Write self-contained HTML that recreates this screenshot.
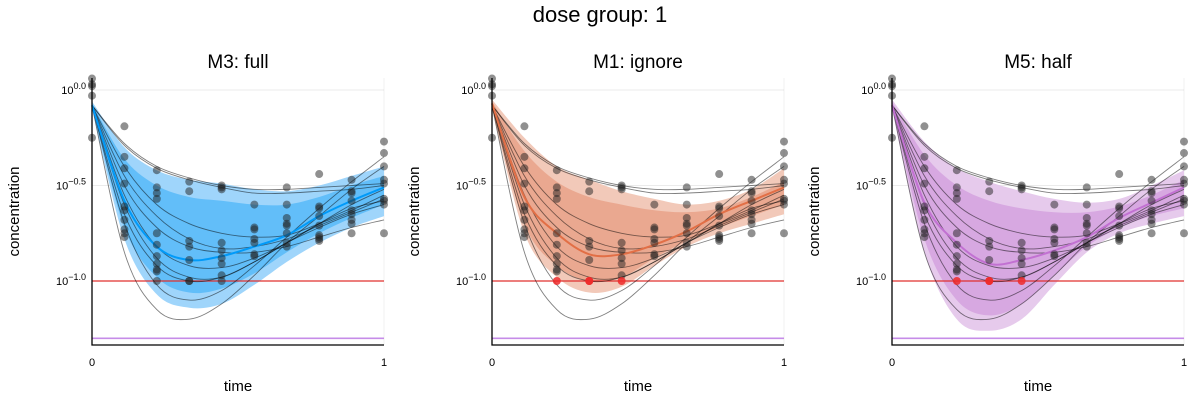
<!DOCTYPE html>
<html><head><meta charset="utf-8">
<style>
body{margin:0;background:#fff;}
svg text{font-family:"Liberation Sans","DejaVu Sans",sans-serif;}
</style></head>
<body>
<svg id="chart" width="1200" height="400" viewBox="0 0 1200 400" xmlns="http://www.w3.org/2000/svg">
<text x="600" y="22" text-anchor="middle" font-size="22" fill="#000">dose group: 1</text>
</svg>
<script>
const times=[0,0.111,0.222,0.333,0.444,0.556,0.667,0.778,0.889,1];
const obsT=[0,0.111,0.222,0.333,0.444,0.556,0.667,0.778,0.889,1];
const obsV=[
 [0.06,0.03,0.02,-0.03,-0.25],
 [-0.19,-0.35,-0.41,-0.49,-0.61,-0.63,-0.68,-0.73,-0.75,-0.77],
 [-0.42,-0.51,-0.54,-0.57,-0.75,-0.81,-0.87,-0.91,-0.94,-0.95,-1.0],
 [-0.48,-0.53,-0.79,-0.82,-0.89,-1.0,-1.0],
 [-0.50,-0.51,-0.52,-0.80,-0.84,-0.88,-0.91,-0.97,-1.0],
 [-0.60,-0.72,-0.73,-0.78,-0.80,-0.86,-0.87],
 [-0.51,-0.60,-0.67,-0.70,-0.71,-0.75,-0.80,-0.82],
 [-0.44,-0.61,-0.62,-0.66,-0.71,-0.76,-0.77,-0.78,-0.79],
 [-0.47,-0.53,-0.54,-0.58,-0.63,-0.65,-0.68,-0.70,-0.75],
 [-0.27,-0.33,-0.40,-0.47,-0.49,-0.57,-0.58,-0.60,-0.75]
];
const indiv=[
 [-0.08,-0.28,-0.40,-0.46,-0.50,-0.52,-0.52,-0.51,-0.50,-0.49],
 [-0.08,-0.29,-0.41,-0.47,-0.51,-0.54,-0.54,-0.53,-0.52,-0.50],
 [-0.08,-0.70,-1.02,-1.10,-1.05,-0.92,-0.77,-0.62,-0.48,-0.35],
 [-0.08,-0.85,-1.15,-1.20,-1.12,-0.97,-0.80,-0.66,-0.52,-0.40],
 [-0.08,-0.50,-0.72,-0.82,-0.85,-0.85,-0.82,-0.77,-0.72,-0.68],
 [-0.08,-0.40,-0.60,-0.70,-0.75,-0.77,-0.76,-0.70,-0.63,-0.55],
 [-0.08,-0.55,-0.82,-0.92,-0.93,-0.88,-0.80,-0.70,-0.60,-0.52],
 [-0.08,-0.60,-0.88,-0.98,-0.98,-0.90,-0.80,-0.70,-0.62,-0.58],
 [-0.08,-0.65,-0.92,-1.00,-0.98,-0.90,-0.80,-0.72,-0.65,-0.60],
 [-0.08,-0.45,-0.66,-0.78,-0.83,-0.82,-0.78,-0.71,-0.64,-0.57]
];
const panelTitles=["M3: full","M1: ignore","M5: half"];
const medianM3=[-0.08,-0.58,-0.82,-0.89,-0.87,-0.82,-0.76,-0.66,-0.58,-0.51];
const medianM1=[-0.07,-0.56,-0.75,-0.86,-0.86,-0.81,-0.74,-0.65,-0.58,-0.51];
const medianM5=[-0.08,-0.59,-0.80,-0.91,-0.89,-0.84,-0.77,-0.67,-0.59,-0.51];
const outerUpM3=[-0.06,-0.30,-0.42,-0.47,-0.49,-0.52,-0.53,-0.50,-0.45,-0.40];
const outerLoM3=[-0.10,-0.78,-1.07,-1.14,-1.12,-1.02,-0.90,-0.80,-0.72,-0.66];
const innerUpM3=[-0.07,-0.36,-0.50,-0.56,-0.58,-0.60,-0.60,-0.56,-0.50,-0.45];
const innerLoM3=[-0.09,-0.72,-0.98,-1.06,-1.04,-0.96,-0.85,-0.75,-0.67,-0.60];
const outerUpM1=[-0.05,-0.25,-0.40,-0.47,-0.53,-0.57,-0.60,-0.58,-0.52,-0.41];
const outerLoM1=[-0.10,-0.75,-0.98,-1.06,-1.03,-0.92,-0.82,-0.75,-0.70,-0.65];
const innerUpM1=[-0.06,-0.32,-0.48,-0.56,-0.60,-0.63,-0.64,-0.62,-0.56,-0.48];
const innerLoM1=[-0.09,-0.70,-0.92,-1.00,-0.98,-0.88,-0.79,-0.72,-0.66,-0.60];
const outerUpM5=[-0.05,-0.27,-0.41,-0.48,-0.53,-0.57,-0.59,-0.57,-0.50,-0.42];
const outerLoM5=[-0.10,-0.85,-1.20,-1.26,-1.20,-1.02,-0.85,-0.75,-0.70,-0.66];
const innerUpM5=[-0.06,-0.34,-0.50,-0.58,-0.62,-0.64,-0.64,-0.61,-0.55,-0.47];
const innerLoM5=[-0.09,-0.78,-1.10,-1.18,-1.12,-0.97,-0.82,-0.72,-0.66,-0.62];
const yTicks=[0,-0.5,-1.0];
const yTickLabels=["0.0","\u22120.5","\u22121.0"];
const xTicks=[0,1];
const loq=-1.0;
const lloq=-1.3;

const NS="http://www.w3.org/2000/svg";
const svg=document.getElementById('chart');
function mk(tag,attrs,parent){const e=document.createElementNS(NS,tag);for(const k in attrs)e.setAttribute(k,attrs[k]);(parent||svg).appendChild(e);return e;}
const panels=[
 {x0:92,med:medianM3,ou:outerUpM3,ol:outerLoM3,iu:innerUpM3,il:innerLoM3,c:"#009af9",outer:"#9fd5fb",inner:"#62bef9",red:false},
 {x0:492,med:medianM1,ou:outerUpM1,ol:outerLoM1,iu:innerUpM1,il:innerLoM1,c:"#e26f46",outer:"#f2c9b9",inner:"#eaa890",red:true},
 {x0:892,med:medianM5,ou:outerUpM5,ol:outerLoM5,iu:innerUpM5,il:innerLoM5,c:"#c271d2",outer:"#e6caec",inner:"#d7a8e1",red:true}
];
const W=292, yTop=78, yBot=345;
function yS(v){return 90-v*191;}
function pts(arr,xs){return arr.map((v,i)=>[xs(times[i]),yS(v)]);}
function spline(p){let d="M"+p[0][0].toFixed(1)+","+p[0][1].toFixed(1);
 for(let i=0;i<p.length-1;i++){const p0=p[i-1]||p[i],p1=p[i],p2=p[i+1],p3=p[i+2]||p[i+1];
  const c1=[p1[0]+(p2[0]-p0[0])/6,p1[1]+(p2[1]-p0[1])/6],c2=[p2[0]-(p3[0]-p1[0])/6,p2[1]-(p3[1]-p1[1])/6];
  d+=" C"+c1[0].toFixed(1)+","+c1[1].toFixed(1)+" "+c2[0].toFixed(1)+","+c2[1].toFixed(1)+" "+p2[0].toFixed(1)+","+p2[1].toFixed(1);}
 return d;}
function bandPath(up,lo,xs){const a=pts(up,xs),b=pts(lo,xs).reverse();let d=spline(a);d+=" L"+spline(b).slice(1)+" Z";return d;}
panels.forEach((P,pi)=>{
 const xs=t=>P.x0+t*W;
 const g=mk('g',{});
 
 
 const tt=mk('text',{x:P.x0+W/2,y:68,'text-anchor':'middle','font-size':19,fill:'#000'},g);tt.textContent=panelTitles[pi];
 
 
 yTicks.forEach((v,i)=>{const l=mk('line',{x1:P.x0,x2:P.x0+W,y1:yS(v),y2:yS(v),stroke:'#000','stroke-opacity':0.08,'stroke-width':1},g);
  
  
  const tx=mk('text',{x:P.x0-6,y:yS(v)+4,'text-anchor':'end','font-size':11,fill:'#000'},g);
  
  
  const a=mk('tspan',{},tx);a.textContent="10";const s=mk('tspan',{dy:-5,'font-size':9},tx);s.textContent=yTickLabels[i];});
 xTicks.forEach(v=>{const l=mk('line',{x1:xs(v),x2:xs(v),y1:yTop,y2:yBot,stroke:'#000','stroke-opacity':0.06},g);
  
  
  const tx=mk('text',{x:xs(v),y:366,'text-anchor':'middle','font-size':11,fill:'#000'},g);tx.textContent=String(v);
  
  });
 const b1=mk('path',{d:bandPath(P.ou,P.ol,xs),fill:P.outer},g);
 
 
 const b2=mk('path',{d:bandPath(P.iu,P.il,xs),fill:P.inner},g);
 
 
 const r=mk('line',{x1:P.x0,x2:P.x0+W,y1:yS(loq),y2:yS(loq),stroke:'#e0302f','stroke-width':1.3},g);
 
 
 const pl=mk('line',{x1:P.x0,x2:P.x0+W,y1:yS(lloq),y2:yS(lloq),stroke:'#c68ce8','stroke-width':1.6},g);
 
 
 indiv.forEach(c=>{const p=mk('path',{d:spline(pts(c,xs)),fill:'none',stroke:'#000','stroke-opacity':0.5,'stroke-width':0.9},g);
  
  });
 const m=mk('path',{d:spline(pts(P.med,xs)),fill:'none',stroke:P.c,'stroke-width':2},g);
 
 
 obsV.forEach((vals,i)=>vals.forEach(v=>{const bl=P.red&&v<=loq;
  const c=mk('circle',{cx:xs(obsT[i]),cy:yS(v),r:4,fill:bl?'#ee2a2a':'#222','fill-opacity':bl?0.85:0.5},g);
  
  }));
 const ax=mk('path',{d:`M${P.x0},${yTop} L${P.x0},${yBot} L${P.x0+W},${yBot}`,fill:'none',stroke:'#000','stroke-width':1.3},g);
 
 
 const xl=mk('text',{x:P.x0+W/2,y:391,'text-anchor':'middle','font-size':15,fill:'#000'},g);xl.textContent='time';
 
 
 const yl=mk('text',{x:0,y:0,transform:`translate(${P.x0-73},${(yTop+yBot)/2}) rotate(-90)`,'text-anchor':'middle','font-size':15,fill:'#000'},g);yl.textContent='concentration';
 
 
});
</script>
</body></html>
